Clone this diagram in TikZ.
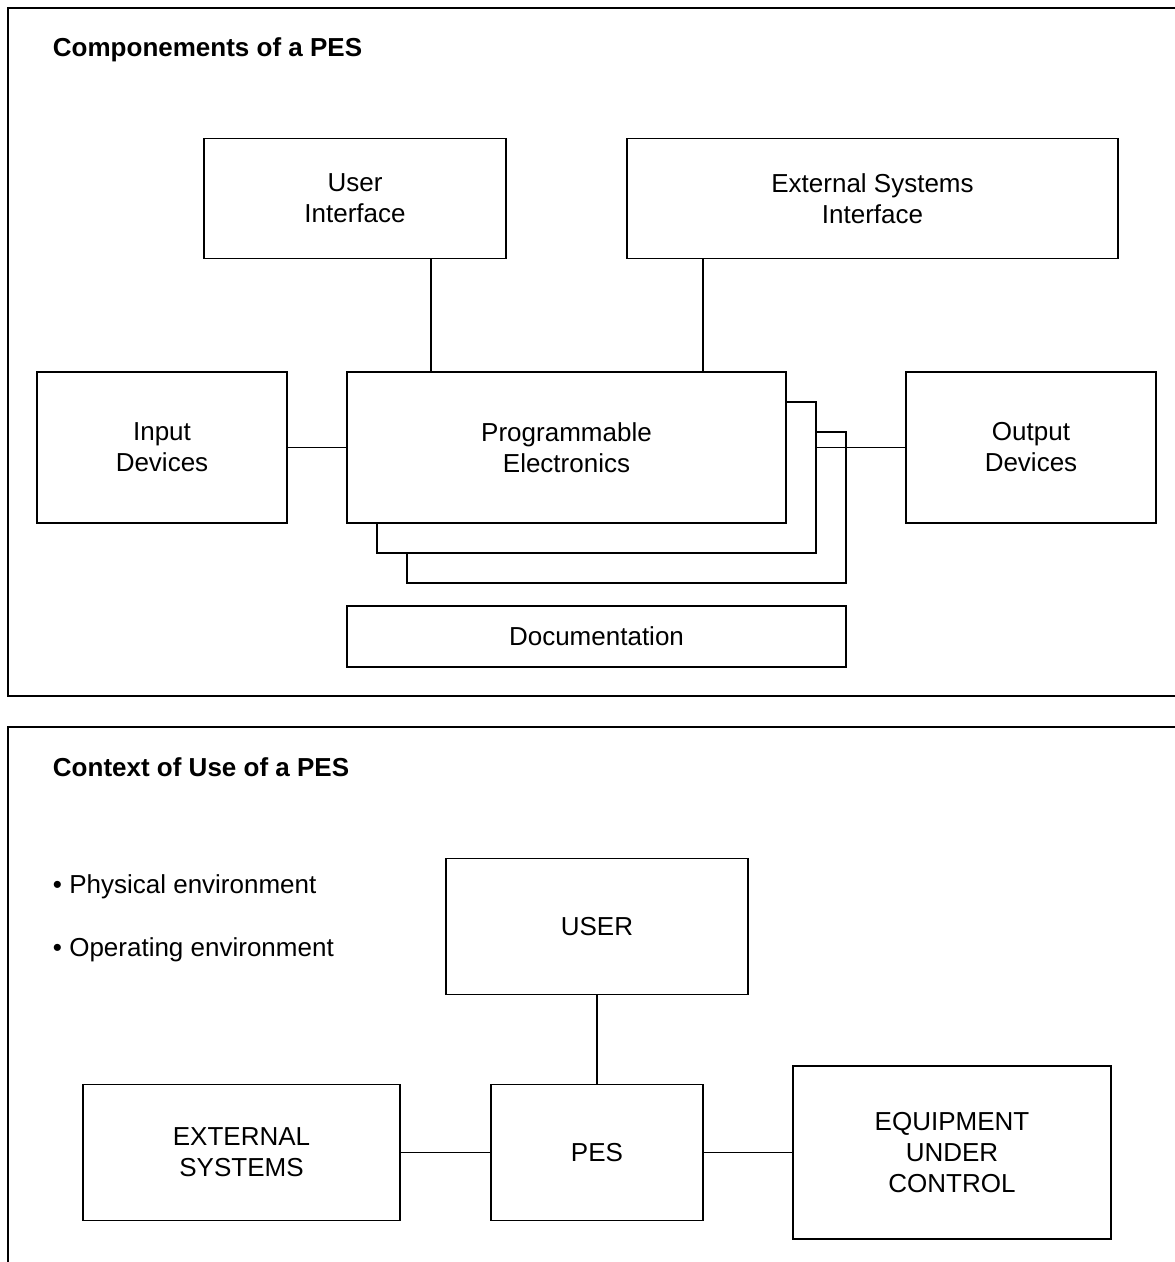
\documentclass[tikz,border=0pt]{standalone}
\usepackage{fontspec}
\setmainfont{Liberation Sans}

\begin{document}
\begin{tikzpicture}[x=0.02cm, y=-0.02cm, line width=1.1pt,
		box/.style={draw, fill=white, align=center, inner sep=0pt, font=\fontsize{14.8}{17.6}\selectfont},
		heading/.style={anchor=base west, inner sep=0pt, font=\bfseries\fontsize{14.8}{17.6}\selectfont},
		bullet/.style={anchor=base west, inner sep=0pt, font=\fontsize{14.8}{17.6}\selectfont}]
		\useasboundingbox (0,0) rectangle (1175,1262);
		%frames
		\draw (8,8) rectangle (1200,696);
		\draw (8,727) rectangle (1200,1300);
		\node [heading] (comptitle) at (52,56) {Componements of a PES};
		\node [heading] (ctxtitle) at (52,776) {Context of Use of a PES};
		%components
		\node [box, minimum width=6.04cm, minimum height=2.4cm] (ui) at (355,198.5) {User\\Interface};
		\node [box, minimum width=9.82cm, minimum height=2.4cm] (esi) at (872.5,198.5) {External Systems\\Interface};
		\node [box, minimum width=5cm, minimum height=3.02cm] (in) at (162,447.5) {Input\\Devices};
		\node [box, minimum width=8.78cm, minimum height=3.02cm] (pe3) at (626.5,507.5) {};
		\node [box, minimum width=8.78cm, minimum height=3.02cm] (pe2) at (596.5,477.5) {};
		\node [box, minimum width=8.78cm, minimum height=3.02cm] (pe) at (566.5,447.5) {Programmable\\Electronics};
		\node [box, minimum width=5cm, minimum height=3.02cm] (out) at (1031,447.5) {Output\\Devices};
		\node [box, minimum width=9.98cm, minimum height=1.22cm] (doc) at (596.5,636.5) {Documentation};
		\coordinate (uitap) at (431,0);
		\coordinate (esitap) at (703,0);
		\draw (ui.south -| uitap) -- (pe.north -| uitap);
		\draw (esi.south -| esitap) -- (pe.north -| esitap);
		\draw (in.east) -- (pe.west);
		\draw (pe.east -| pe2.east) -- (out.west);
		%context
		\node [bullet] (phys) at (52,893) {\textbullet\ Physical environment};
		\node [bullet] (oper) at (52,956) {\textbullet\ Operating environment};
		\node [box, minimum width=6.04cm, minimum height=2.72cm] (user) at (597,926.5) {USER};
		\node [box, minimum width=4.24cm, minimum height=2.72cm] (pes) at (597,1152.5) {PES};
		\node [box, minimum width=6.34cm, minimum height=2.72cm] (ext) at (241.5,1152.5) {EXTERNAL\\SYSTEMS};
		\node [box, minimum width=6.36cm, minimum height=3.46cm] (euc) at (952,1152.5) {EQUIPMENT\\UNDER\\CONTROL};
		\draw (user.south) -- (pes.north);
		\draw (ext.east) -- (pes.west);
		\draw (pes.east) -- (euc.west);
\end{tikzpicture}
\end{document}
